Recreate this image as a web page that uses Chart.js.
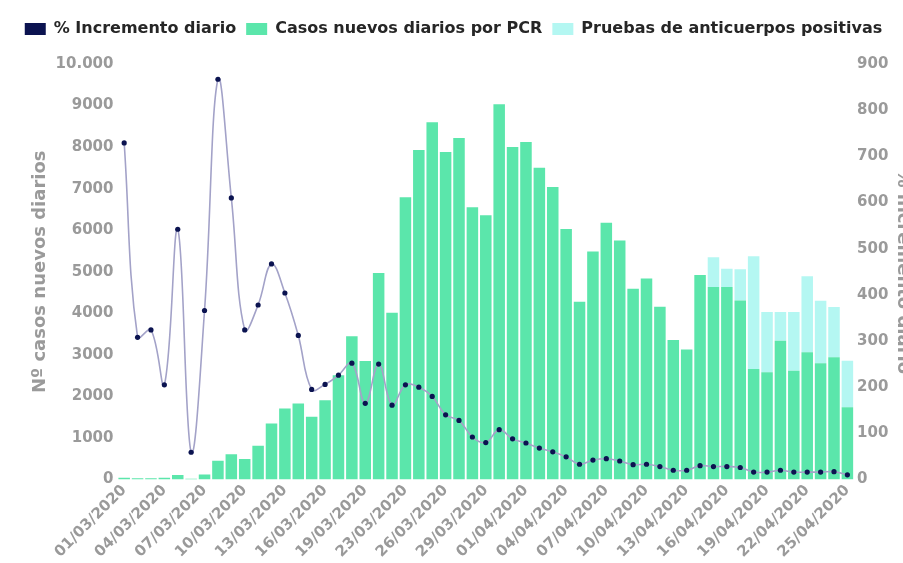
<!DOCTYPE html>
<html>
<head>
<meta charset="utf-8">
<script src="https://cdn.jsdelivr.net/npm/chart.js@4"></script>
<style>
  html, body { margin: 0; padding: 0; background: #ffffff; overflow: hidden; }
  #wrap { width: 903px; height: 563px; overflow: hidden; position: relative; }
  canvas { display: block; }
</style>
</head>
<body>
<div id="wrap"><canvas id="c" width="918" height="563"></canvas></div>
<script>
// Categories (22/03/2020 has no data in the source)
const dates = [
  '01/03/2020','02/03/2020','03/03/2020','04/03/2020','05/03/2020','06/03/2020','07/03/2020',
  '08/03/2020','09/03/2020','10/03/2020','11/03/2020','12/03/2020','13/03/2020','14/03/2020',
  '15/03/2020','16/03/2020','17/03/2020','18/03/2020','19/03/2020','20/03/2020','21/03/2020',
  '23/03/2020','24/03/2020','25/03/2020','26/03/2020','27/03/2020','28/03/2020','29/03/2020',
  '30/03/2020','31/03/2020','01/04/2020','02/04/2020','03/04/2020','04/04/2020','05/04/2020',
  '06/04/2020','07/04/2020','08/04/2020','09/04/2020','10/04/2020','11/04/2020','12/04/2020',
  '13/04/2020','14/04/2020','15/04/2020','16/04/2020','17/04/2020','18/04/2020','19/04/2020',
  '20/04/2020','21/04/2020','22/04/2020','23/04/2020','24/04/2020','25/04/2020'
];

// Casos nuevos diarios por PCR
const casosPCR = [
  40, 30, 30, 40, 110, 15, 120, 450, 610, 490, 810, 1350, 1710, 1830,
  1510, 1910, 2510, 3450, 2850, 4970, 4010,
  6790, 7930, 8600, 7880, 8220, 6550, 6360,
  9030, 8000, 8120, 7500, 7040, 6030, 4280,
  5490, 6180, 5750, 4590, 4840, 4160, 3360,
  3130, 4920, 4630, 4630, 4310, 2660, 2580,
  3340, 2620, 3060, 2800, 2940, 1740
];

// Pruebas de anticuerpos positivas
const anticuerpos = [
  0, 0, 0, 0, 0, 0, 0, 0, 0, 0, 0, 0, 0, 0,
  0, 0, 0, 0, 0, 0, 0,
  0, 0, 0, 0, 0, 0, 0,
  0, 0, 0, 0, 0, 0, 0,
  0, 0, 0, 0, 0, 0, 0,
  0, 0, 720, 440, 750, 2710, 1450,
  690, 1410, 1830, 1500, 1210, 1120
];

// % Incremento diario
const incremento = [
  729, 308, 324, 205, 542, 59, 366, 867, 610, 324, 378, 467, 404, 312,
  195, 206, 226, 252, 165, 250, 161,
  205, 200, 180, 140, 128, 92, 80,
  108, 88, 79, 68, 60, 49, 33,
  42, 45, 40, 32, 33, 28, 20,
  20, 30, 28, 28, 26, 16, 16,
  20, 16, 16, 16, 17, 10
];

const leftTicks = [0, 1000, 2000, 3000, 4000, 5000, 6000, 7000, 8000, 9000, 10000];
const leftTickLabels = ['0', '1000', '2000', '3000', '4000', '5000', '6000', '7000', '8000', '9000', '10.000'];
const rightTicks = [0, 100, 200, 300, 400, 500, 600, 700, 800, 900];

const NAVY = '#0b1350';
const GREEN = '#5be6ab';
const CYAN = '#b4f7f2';
const LINE = '#a3a2c8';
const GREY = '#9a9a9a';
const FONT = "'DejaVu Sans', sans-serif";

const legendTweak = {
  id: 'legendTweak',
  beforeInit(chart) {
    const fit = chart.legend.fit;
    chart.legend.fit = function () { fit.call(this); this.height += 17; };
  },
  afterLayout(chart) {
    chart.legend.left -= 18;
    chart.legend.right -= 18;
  }
};

new Chart(document.getElementById('c'), {
  type: 'bar',
  data: {
    labels: dates,
    datasets: [
      {
        type: 'line',
        label: '% Incremento diario',
        data: incremento,
        yAxisID: 'y1',
        borderColor: LINE,
        backgroundColor: NAVY,
        borderWidth: 1.6,
        tension: 0.4,
        pointRadius: 2.6,
        pointBackgroundColor: NAVY,
        pointBorderColor: NAVY,
        pointBorderWidth: 0,
        order: 0
      },
      {
        label: 'Casos nuevos diarios por PCR',
        data: casosPCR,
        yAxisID: 'y',
        backgroundColor: GREEN,
        borderWidth: 0,
        barPercentage: 0.86,
        categoryPercentage: 1.0,
        order: 1
      },
      {
        label: 'Pruebas de anticuerpos positivas',
        data: anticuerpos,
        yAxisID: 'y',
        backgroundColor: CYAN,
        borderWidth: 0,
        barPercentage: 0.86,
        categoryPercentage: 1.0,
        order: 1
      }
    ]
  },
  plugins: [legendTweak],
  options: {
    responsive: false,
    animation: false,
    layout: { padding: { left: 30, right: 5, top: 11, bottom: 0 } },
    plugins: {
      tooltip: { enabled: false },
      legend: {
        position: 'top',
        align: 'center',
        labels: {
          color: '#262626',
          font: { family: FONT, size: 16, weight: 'bold' },
          boxWidth: 21,
          boxHeight: 12,
          padding: 10,
          generateLabels: (chart) => {
            const items = Chart.defaults.plugins.legend.labels.generateLabels(chart);
            items.forEach(it => { it.lineWidth = 0; it.strokeStyle = it.fillStyle; });
            return items;
          }
        }
      }
    },
    scales: {
      x: {
        stacked: true,
        offset: true,
        grid: { display: false, drawTicks: false },
        border: { display: false },
        ticks: {
          autoSkip: false,
          maxRotation: 45,
          minRotation: 45,
          padding: 2,
          color: GREY,
          font: { family: FONT, size: 15, weight: 'bold' },
          callback: function (v, i) { return i % 3 === 0 ? dates[i] : ''; }
        }
      },
      y: {
        stacked: true,
        position: 'left',
        min: 0,
        max: 10000,
        grid: { display: false, drawTicks: false },
        border: { display: false },
        afterBuildTicks: (axis) => { axis.ticks = leftTicks.map(v => ({ value: v })); },
        ticks: {
          padding: 4,
          color: GREY,
          font: { family: FONT, size: 15, weight: 'bold' },
          callback: (v) => leftTickLabels[leftTicks.indexOf(v)]
        },
        title: {
          display: true,
          text: 'Nº casos nuevos diarios',
          color: GREY,
          font: { family: FONT, size: 18, weight: 'bold' },
          padding: { top: 0, bottom: 0 }
        }
      },
      y1: {
        position: 'right',
        min: 0,
        max: 900,
        grid: { display: false, drawTicks: false },
        border: { display: false },
        afterBuildTicks: (axis) => { axis.ticks = rightTicks.map(v => ({ value: v })); },
        ticks: {
          padding: 3,
          color: GREY,
          font: { family: FONT, size: 15, weight: 'bold' },
          callback: (v) => String(v)
        },
        title: {
          display: true,
          text: '% incremento diario',
          color: GREY,
          font: { family: FONT, size: 18, weight: 'bold' },
          padding: { top: 0, bottom: 0 }
        }
      }
    }
  }
});
</script>
</body>
</html>
